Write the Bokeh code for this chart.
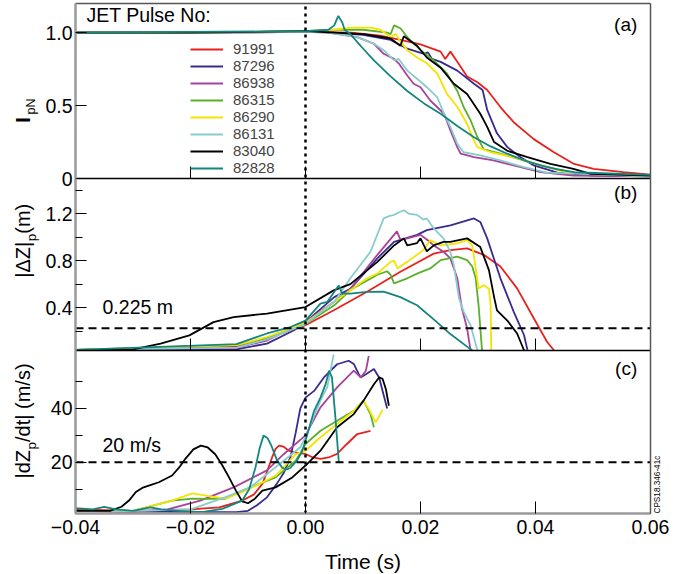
import math
from bokeh.plotting import figure
from bokeh.models import (Range1d, LinearAxis, FixedTicker, CustomJSTickFormatter,
                          Label, Legend, LegendItem)
from bokeh.embed import file_html
from bokeh.resources import INLINE

FONT = "Liberation Sans"

# ---------------- data ----------------
pulses = ["91991", "87296", "86938", "86315", "86290", "86131", "83040", "82828"]
colors = ["#e8231e", "#3b2a8f", "#a8429c", "#5aaf2d", "#f5e400", "#8acccc", "#000000", "#12867f"]

# panel (a): normalised plasma current I_pN
ta_91991 = [-0.04, -0.02, 0.0, 0.008, 0.013, 0.0165, 0.020, 0.0235, 0.0243, 0.0252, 0.0264, 0.0281, 0.0299, 0.0316, 0.0339, 0.0362, 0.0397, 0.0432, 0.0467, 0.0501, 0.0553, 0.06]
ia_91991 = [1.0, 1.0, 1.005, 1.0, 0.98, 0.95, 0.92, 0.87, 0.82, 0.87, 0.80, 0.70, 0.66, 0.607, 0.49, 0.386, 0.27, 0.18, 0.10, 0.066, 0.043, 0.027]
ta_87296 = [-0.04, -0.02, 0.0, 0.005, 0.010, 0.0148, 0.0177, 0.0206, 0.0213, 0.0220, 0.0235, 0.0264, 0.0293, 0.0308, 0.0316, 0.0333, 0.0351, 0.0374, 0.0397, 0.0438, 0.050, 0.06]
ia_87296 = [1.0, 1.0, 1.01, 1.0, 0.985, 0.95, 0.89, 0.855, 0.865, 0.82, 0.80, 0.74, 0.65, 0.607, 0.47, 0.31, 0.215, 0.146, 0.09, 0.04, 0.02, 0.015]
ta_86938 = [-0.04, -0.02, 0.0, 0.004, 0.0090, 0.0119, 0.0136, 0.0154, 0.0162, 0.0177, 0.0188, 0.0200, 0.0217, 0.0241, 0.0252, 0.0264, 0.0270, 0.0293, 0.0327, 0.0362, 0.0409, 0.0466, 0.06]
ia_86938 = [1.0, 1.0, 1.005, 1.0, 0.97, 0.924, 0.855, 0.82, 0.79, 0.706, 0.65, 0.626, 0.535, 0.444, 0.33, 0.215, 0.17, 0.146, 0.124, 0.09, 0.043, 0.02, 0.015]
ta_86315 = [-0.04, -0.02, 0.0, 0.005, 0.010, 0.0142, 0.0148, 0.0154, 0.0165, 0.0177, 0.0200, 0.0223, 0.0246, 0.0264, 0.0275, 0.0287, 0.0299, 0.0310, 0.0339, 0.0379, 0.0420, 0.0466, 0.06]
ia_86315 = [1.0, 1.0, 1.01, 1.02, 1.02, 1.0, 0.99, 1.05, 1.03, 0.97, 0.88, 0.81, 0.72, 0.60, 0.49, 0.40, 0.283, 0.20, 0.17, 0.124, 0.078, 0.04, 0.02]
ta_86290 = [-0.04, -0.02, 0.0, 0.005, 0.008, 0.0113, 0.013, 0.0148, 0.0157, 0.0165, 0.0177, 0.0194, 0.0211, 0.0229, 0.0246, 0.0264, 0.0281, 0.0293, 0.0299, 0.0322, 0.0362, 0.0409, 0.0455, 0.06]
ia_86290 = [1.0, 1.0, 1.01, 1.02, 1.035, 1.035, 1.02, 0.97, 0.99, 0.94, 0.88, 0.83, 0.79, 0.72, 0.58, 0.49, 0.375, 0.26, 0.215, 0.18, 0.146, 0.09, 0.04, 0.015]
ta_86131 = [-0.04, -0.02, 0.0, 0.004, 0.0090, 0.0119, 0.0136, 0.0154, 0.0162, 0.0177, 0.0194, 0.0211, 0.0229, 0.0241, 0.0252, 0.0264, 0.0275, 0.0304, 0.0339, 0.0380, 0.0420, 0.06]
ia_86131 = [1.0, 1.0, 1.005, 1.0, 0.97, 0.924, 0.88, 0.81, 0.82, 0.74, 0.684, 0.626, 0.558, 0.444, 0.354, 0.238, 0.18, 0.158, 0.124, 0.078, 0.04, 0.015]
ta_83040 = [-0.04, -0.02, 0.0, 0.005, 0.0101, 0.0148, 0.0165, 0.0171, 0.0180, 0.0194, 0.0211, 0.0235, 0.0258, 0.0281, 0.0304, 0.0316, 0.0328, 0.0351, 0.0386, 0.0426, 0.0466, 0.0496, 0.06]
ia_83040 = [1.0, 1.0, 1.01, 1.0, 0.99, 0.96, 0.91, 0.975, 0.95, 0.91, 0.83, 0.76, 0.65, 0.58, 0.444, 0.354, 0.25, 0.19, 0.146, 0.10, 0.066, 0.032, 0.02]
ta_82828 = [-0.04, -0.02, 0.0, 0.004, 0.0050, 0.0057, 0.0064, 0.0068, 0.0078, 0.0098, 0.0119, 0.0148, 0.0177, 0.0206, 0.0235, 0.0264, 0.0293, 0.0322, 0.0351, 0.0380, 0.0409, 0.0438, 0.0467, 0.06]
ia_82828 = [1.0, 1.005, 1.01, 1.02, 1.05, 1.115, 1.07, 1.02, 0.99, 0.90, 0.81, 0.70, 0.60, 0.515, 0.444, 0.36, 0.283, 0.22, 0.17, 0.125, 0.09, 0.062, 0.043, 0.025]

# panel (b): |dZ|p (m)
tb_91991 = [-0.04, -0.012, -0.0067, 0.0, 0.005, 0.0107, 0.0165, 0.0223, 0.0252, 0.0281, 0.0310, 0.0339, 0.0368, 0.0397, 0.042, 0.0432]
zb_91991 = [0.04, 0.07, 0.14, 0.25, 0.38, 0.536, 0.706, 0.86, 0.89, 0.905, 0.85, 0.75, 0.564, 0.31, 0.11, 0.037]
tb_87296 = [-0.04, -0.012, -0.0067, -0.002, 0.0003, 0.005, 0.0078, 0.0125, 0.0154, 0.0194, 0.0211, 0.0252, 0.0293, 0.0304, 0.0316, 0.0339, 0.0362, 0.0380, 0.0386]
zb_87296 = [0.04, 0.045, 0.094, 0.207, 0.29, 0.49, 0.56, 0.82, 0.96, 1.02, 1.06, 1.10, 1.16, 1.13, 0.99, 0.65, 0.366, 0.167, 0.04]
tb_86938 = [-0.04, -0.012, -0.0067, 0.0, 0.005, 0.0078, 0.0125, 0.0159, 0.0165, 0.0177, 0.0200, 0.0211, 0.0223, 0.0240, 0.0252, 0.0264, 0.0272, 0.0281, 0.0287]
zb_86938 = [0.04, 0.06, 0.12, 0.28, 0.45, 0.56, 0.85, 1.05, 0.98, 0.99, 1.02, 0.98, 0.93, 0.876, 0.82, 0.65, 0.394, 0.224, 0.037]
tb_86315 = [-0.04, -0.012, -0.0067, 0.0, 0.005, 0.0078, 0.0125, 0.0142, 0.0148, 0.0154, 0.0177, 0.0194, 0.0217, 0.0235, 0.0264, 0.0281, 0.0290, 0.0296, 0.0301, 0.0307]
zb_86315 = [0.04, 0.08, 0.14, 0.26, 0.42, 0.55, 0.68, 0.71, 0.68, 0.607, 0.65, 0.69, 0.734, 0.805, 0.834, 0.805, 0.75, 0.65, 0.42, 0.037]
tb_86290 = [-0.04, -0.012, -0.0067, 0.0, 0.005, 0.0107, 0.0125, 0.0148, 0.0154, 0.016, 0.0177, 0.0205, 0.0217, 0.0235, 0.0264, 0.0281, 0.0290, 0.0296, 0.0301, 0.0310, 0.0319, 0.0322, 0.0323]
zb_86290 = [0.04, 0.08, 0.15, 0.27, 0.45, 0.65, 0.69, 0.79, 0.80, 0.734, 0.79, 0.89, 0.975, 0.93, 0.947, 0.975, 0.93, 0.734, 0.564, 0.59, 0.56, 0.42, 0.037]
tb_86131 = [-0.04, -0.012, -0.0067, 0.0, 0.005, 0.0078, 0.0113, 0.0136, 0.0145, 0.0154, 0.0162, 0.0171, 0.0180, 0.0194, 0.0205, 0.0211, 0.0223, 0.0240, 0.0252, 0.0258, 0.0267, 0.0275, 0.0287, 0.0299]
zb_86131 = [0.04, 0.06, 0.13, 0.26, 0.45, 0.65, 0.876, 1.16, 1.18, 1.19, 1.21, 1.23, 1.20, 1.19, 1.15, 1.16, 1.075, 0.99, 0.876, 0.76, 0.48, 0.366, 0.25, 0.037]
tb_83040 = [-0.04, -0.0304, -0.0252, -0.0202, -0.016, -0.0125, -0.0067, 0.0, 0.0049, 0.0078, 0.0125, 0.0154, 0.0171, 0.0177, 0.0194, 0.0200, 0.0211, 0.0223, 0.0240, 0.0252, 0.0281, 0.0304, 0.0319, 0.0328, 0.0333, 0.0351, 0.0368, 0.0380]
zb_83040 = [0.04, 0.04, 0.094, 0.164, 0.277, 0.32, 0.349, 0.405, 0.547, 0.60, 0.79, 0.93, 0.99, 0.93, 0.95, 0.99, 0.88, 0.93, 0.96, 0.96, 0.99, 0.916, 0.72, 0.49, 0.377, 0.29, 0.18, 0.037]
tb_82828 = [-0.04, -0.012, -0.0067, -0.0026, 0.0, 0.0026, 0.0038, 0.0055, 0.0058, 0.0064, 0.0078, 0.0107, 0.0136, 0.0165, 0.0194, 0.0223, 0.0252, 0.0281, 0.029]
zb_82828 = [0.04, 0.09, 0.18, 0.235, 0.29, 0.434, 0.45, 0.57, 0.587, 0.52, 0.52, 0.535, 0.536, 0.49, 0.42, 0.30, 0.175, 0.068, 0.037]

# panel (c): |dZp/dt| (m/s)
tc_91991 = [-0.04, -0.03, -0.02, -0.015, -0.011, -0.009, -0.0075, -0.0066, -0.0058, -0.0052, -0.0046, -0.0038, -0.0029, -0.0015, 0.0, 0.0013, 0.0026, 0.004, 0.0055, 0.0072, 0.009, 0.0113]
vc_91991 = [2.5, 2, 2.5, 3.3, 5.8, 8, 12, 17, 21.9, 25, 26.2, 25.8, 24.3, 23.5, 23.1, 21.8, 21.3, 21.8, 23.1, 26.8, 30.5, 31.7]
tc_87296 = [-0.04, -0.02, -0.012, -0.010, -0.0085, -0.0067, -0.005, -0.0038, -0.0026, -0.0017, -0.0009, 0.0, 0.0015, 0.0032, 0.0055, 0.0075, 0.0084, 0.0092, 0.0096, 0.0105, 0.0119, 0.0128, 0.0142]
vc_87296 = [2, 1.5, 1.5, 2, 4, 7, 12, 16, 22, 31, 40, 44, 46.5, 51.5, 56.4, 57.7, 56.5, 53, 51.5, 52.7, 54.6, 51.5, 40]
tc_86938 = [-0.04, -0.03, -0.024, -0.0183, -0.0125, -0.0067, -0.0038, 0.0, 0.0026, 0.0055, 0.0084, 0.0096, 0.0105, 0.011]
vc_86938 = [2, 1.5, 2.5, 5.8, 10.7, 17, 23, 30, 40.4, 47.8, 54, 51.5, 54, 59.5]
tc_86315 = [-0.04, -0.03, -0.0232, -0.0197, -0.017, -0.014, -0.011, -0.0052, -0.0017, 0.0, 0.0026, 0.0055, 0.0084, 0.0101, 0.0113, 0.0119]
vc_86315 = [2, 2, 5.8, 6.5, 6.4, 6.4, 9.5, 14.4, 20.6, 26.8, 31.7, 35.4, 39.1, 42.9, 37.9, 33]
tc_86290 = [-0.04, -0.03, -0.0232, -0.0197, -0.017, -0.014, -0.011, -0.008, -0.0052, -0.0017, 0.0, 0.0026, 0.0055, 0.0084, 0.0101, 0.011, 0.0122, 0.013, 0.0134]
vc_86290 = [2, 2, 5.8, 8.5, 7.5, 6.5, 8.9, 12, 15, 23, 24.3, 29.3, 34.2, 39.1, 42.9, 39.8, 34.8, 37.9, 39.5]
tc_86131 = [-0.04, -0.03, -0.02, -0.014, -0.0096, -0.0038, -0.0009, 0.0, 0.0026, 0.0038, 0.0049]
vc_86131 = [2, 2, 2.5, 7, 10.7, 20.6, 25.6, 29.3, 42.9, 48, 60]
tc_83040 = [-0.04, -0.034, -0.0320, -0.0307, -0.0295, -0.0284, -0.0270, -0.0255, -0.0232, -0.0220, -0.0209, -0.0195, -0.0182, -0.0170, -0.0157, -0.0145, -0.0133, -0.0121, -0.0110, -0.0100, -0.0088, -0.0075, -0.0052, -0.0023, 0.0, 0.0026, 0.0055, 0.0084, 0.0101, 0.0119, 0.0128, 0.0134, 0.0140, 0.0145]
vc_83040 = [2, 2, 3.5, 5.8, 9, 10.5, 11.5, 12.6, 15.1, 18, 21.3, 24.8, 26.2, 25.5, 23, 19, 14.4, 9.5, 5.5, 4.8, 6.5, 9.5, 10.7, 14.4, 18.8, 24.3, 33, 37.9, 42.9, 49, 51.5, 51, 47, 41]
tc_82828 = [-0.04, -0.037, -0.035, -0.033, -0.03, -0.027, -0.025, -0.022, -0.018, -0.0145, -0.011, -0.0098, -0.0087, -0.0080, -0.0073, -0.0066, -0.0060, -0.0050, -0.0041, -0.0034, -0.0027, -0.0015, -0.0006, 0.0, 0.0015, 0.0026, 0.0035, 0.0041, 0.0046, 0.0052, 0.0058]
vc_82828 = [3, 2.5, 3.5, 2.5, 2, 3.3, 2.5, 2, 1.5, 2.7, 5.8, 10, 18.1, 25, 29.9, 29, 26.5, 21, 18.1, 17.3, 17.8, 20.6, 24, 28, 39.1, 44, 49, 54, 51.5, 36.7, 20]

panel_a = [(ta_91991, ia_91991), (ta_87296, ia_87296), (ta_86938, ia_86938), (ta_86315, ia_86315),
           (ta_86290, ia_86290), (ta_86131, ia_86131), (ta_83040, ia_83040), (ta_82828, ia_82828)]
panel_b = [(tb_91991, zb_91991), (tb_87296, zb_87296), (tb_86938, zb_86938), (tb_86315, zb_86315),
           (tb_86290, zb_86290), (tb_86131, zb_86131), (tb_83040, zb_83040), (tb_82828, zb_82828)]
panel_c = [(tc_91991, vc_91991), (tc_87296, vc_87296), (tc_86938, vc_86938), (tc_86315, vc_86315),
           (tc_86290, vc_86290), (tc_86131, vc_86131), (tc_83040, vc_83040), (tc_82828, vc_82828)]

x_ticks = [-0.04, -0.02, 0.0, 0.02, 0.04, 0.06]
inner_ticks = [-0.02, 0.0, 0.02, 0.04]
a_ticks, a_minor = [0.0, 0.5, 1.0], []
b_ticks, b_minor = [0.4, 0.8, 1.2], [0.2, 0.6, 1.0, 1.4]
c_ticks, c_minor = [20, 40], [10, 30, 50]
z_threshold = 0.225
v_threshold = 20

# ---------------- layout ----------------
W, H = 696, 574
ML, MR, MT, MB = 75, 46, 3, 61     # margins around the stacked panels (px)
PA, PB, PC = 175, 172, 163         # panel heights in px (top to bottom)
x_lo, x_hi = -0.04, 0.06
a_lo, a_hi = 0.0, 1.2
b_lo, b_hi = 0.035, 1.5
c_lo, c_hi = 1.0, 61.5


def full_range(lo, hi, panel_px, below_px, above_px):
    per = (hi - lo) / panel_px
    return Range1d(lo - below_px * per, hi + above_px * per)


# the plotting frame covers the whole canvas; panels are laid out by ranges
p = figure(width=W, height=H, min_border=0, title=None,
           x_range=full_range(x_lo, x_hi, W - ML - MR, ML, MR), y_range=Range1d(0, 1),
           x_axis_location=None, y_axis_location=None,
           output_backend="svg", toolbar_location=None)
p.extra_y_ranges = {
    "a": full_range(a_lo, a_hi, PA, MB + PC + PB, MT),
    "b": full_range(b_lo, b_hi, PB, MB + PC, PA + MT),
    "c": full_range(c_lo, c_hi, PC, MB, PB + PA + MT),
}
p.grid.visible = False
p.outline_line_color = None
p.background_fill_color = "white"
p.border_fill_color = "white"

JS_X = "return (tick < -1e-9 ? '\u2212' : '') + Math.abs(tick).toFixed(2);"


def style_text(ax, size="19.5px"):
    ax.major_label_text_font = FONT
    ax.major_label_text_font_size = size
    ax.major_label_text_color = "black"


def xaxis(rng, loc, ticks, line_color, line_width, labels=False):
    ax = LinearAxis(y_range_name=rng, fixed_location=loc, bounds=(x_lo, x_hi),
                    ticker=FixedTicker(ticks=ticks))
    ax.major_tick_in = 12
    ax.major_tick_out = 0
    ax.major_tick_line_color = "black"
    ax.minor_tick_line_color = None
    ax.axis_line_color = line_color
    ax.axis_line_width = line_width
    if labels:
        ax.formatter = CustomJSTickFormatter(code=JS_X)
        style_text(ax)
        ax.major_label_standoff = 6
        ax.axis_label = "Time (s)"
        ax.axis_label_text_font = FONT
        ax.axis_label_text_font_size = "21px"
        ax.axis_label_text_font_style = "normal"
        ax.axis_label_text_color = "black"
        ax.axis_label_standoff = 13
    else:
        ax.major_label_text_color = None
        ax.major_label_text_font_size = "0px"
    p.add_layout(ax, "below")
    return ax


def yaxis(rng, lo, hi, ticks, minor, code):
    ax = LinearAxis(y_range_name=rng, fixed_location=x_lo, bounds=(lo, hi),
                    ticker=FixedTicker(ticks=ticks, minor_ticks=minor),
                    formatter=CustomJSTickFormatter(code=code))
    ax.major_tick_in = 11
    ax.major_tick_out = 0
    ax.minor_tick_in = 7
    ax.minor_tick_out = 0
    ax.major_tick_line_color = "black"
    ax.minor_tick_line_color = "black"
    ax.axis_line_color = "#9a9a9a"
    ax.axis_line_width = 2.5
    style_text(ax)
    ax.major_label_standoff = 3
    p.add_layout(ax, "left")


def border(side, rng, loc, bounds):
    ax = LinearAxis(y_range_name=rng, fixed_location=loc, bounds=bounds, ticker=FixedTicker(ticks=[]))
    ax.axis_line_color = "#555555"
    ax.axis_line_width = 1.5
    ax.major_tick_line_color = None
    ax.minor_tick_line_color = None
    ax.major_label_text_color = None
    p.add_layout(ax, side)


# data lines
renderers_a = []
for (xs, ys), col in zip(panel_a, colors):
    renderers_a.append(p.line(xs, ys, line_color=col, line_width=1.8, y_range_name="a"))
for (xs, ys), col in zip(panel_b, colors):
    p.line(xs, ys, line_color=col, line_width=1.8, y_range_name="b")
for (xs, ys), col in zip(panel_c, colors):
    p.line(xs, ys, line_color=col, line_width=1.8, y_range_name="c")

# reference lines
p.ray(x=[0.0], y=[c_lo], length=PA + PB + PC, length_units="screen", angle=90, angle_units="deg",
      line_color="black", line_width=2.5, line_dash="3 4", y_range_name="c")
p.segment(x0=[x_lo], y0=[z_threshold], x1=[x_hi], y1=[z_threshold], line_color="black",
          line_width=2, line_dash="8 5", y_range_name="b")
p.segment(x0=[x_lo], y0=[v_threshold], x1=[x_hi], y1=[v_threshold], line_color="black",
          line_width=2, line_dash="8 5", y_range_name="c")

# frame: axes
xaxis("c", c_lo, x_ticks, "#9a9a9a", 2.5, labels=True)
xaxis("b", b_lo, inner_ticks, "black", 1.5)
xaxis("a", a_lo, inner_ticks, "black", 1.5)
yaxis("a", a_lo, a_hi, a_ticks, a_minor, "return tick == 0 ? '0' : tick.toFixed(1);")
yaxis("b", b_lo, b_hi, b_ticks, b_minor, "return tick.toFixed(1);")
yaxis("c", c_lo, c_hi, c_ticks, c_minor, "return tick.toFixed(0);")
border("above", "a", a_hi, (x_lo, x_hi))
border("right", "a", x_hi, (a_lo, a_hi))
border("right", "b", x_hi, (b_lo, b_hi))
border("right", "c", x_hi, (c_lo, c_hi))

# legend
legend = Legend(items=[LegendItem(label=n, renderers=[r]) for n, r in zip(pulses, renderers_a)],
                location=(190, 398), orientation="vertical")
legend.border_line_color = None
legend.background_fill_alpha = 0
legend.padding = 0
legend.margin = 0
legend.spacing = 0
legend.glyph_width = 33
legend.glyph_height = 16
legend.label_height = 16
legend.label_standoff = 10
legend.label_text_font = FONT
legend.label_text_font_size = "15px"
legend.label_text_baseline = "middle"
p.add_layout(legend)


def lab(text, x, y, rng, size, **kw):
    p.add_layout(Label(text=text, x=x, y=y, y_range_name=rng, text_font=FONT,
                       text_font_size=size, text_color="black", **kw))


lab("JET Pulse No:", -0.0381, 1.049, "a", "19.5px")
lab("(a)", 0.0577, 0.986, "a", "19px", text_align="right")
lab("(b)", 0.0577, 1.29, "b", "19px", text_align="right")
lab("(c)", 0.0577, 50.8, "c", "19px", text_align="right")
lab("0.225 m", -0.0353, 0.31, "b", "19.5px")
lab("20 m/s", -0.0353, 22.5, "c", "19.5px")

R = math.pi / 2
# y-axis titles (rotated, built from pieces for subscripts)
lab("I", x_lo, 0.381, "a", "21px", angle=R, x_offset=-42, text_font_style="bold")
lab("pN", x_lo, 0.381, "a", "12.5px", angle=R, x_offset=-38, y_offset=8.5)
lab("|\u0394Z|", x_lo, 0.655, "b", "20px", angle=R, x_offset=-42)
lab("p", x_lo, 0.655, "b", "13.5px", angle=R, x_offset=-37, y_offset=36.5)
lab(" (m)", x_lo, 0.655, "b", "20px", angle=R, x_offset=-42, y_offset=44)
lab("|dZ", x_lo, 14.0, "c", "20px", angle=R, x_offset=-42)
lab("p", x_lo, 14.0, "c", "13.5px", angle=R, x_offset=-37, y_offset=29)
lab("/dt| (m/s)", x_lo, 14.0, "c", "20px", angle=R, x_offset=-42, y_offset=36.5)
lab("CPS18.346-41c", x_hi, c_lo, "c", "8.2px", angle=R, x_offset=11)

open("out.html", "w").write(file_html(p, INLINE))
